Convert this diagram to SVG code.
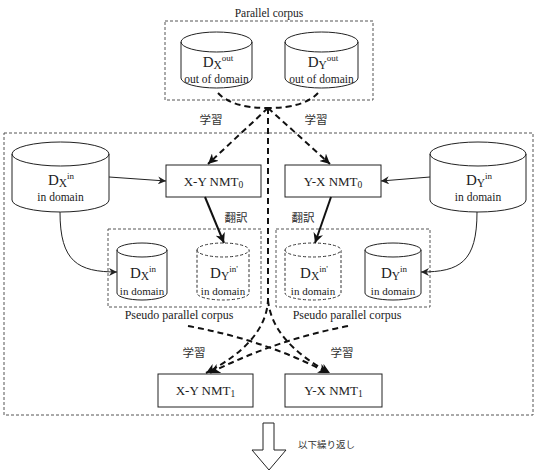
<svg xmlns="http://www.w3.org/2000/svg" width="538" height="473" viewBox="0 0 538 473">
<style>
.t{font-family:"Liberation Serif",serif;fill:#222;text-anchor:middle}
.j{font-family:"Noto Sans CJK JP",sans-serif;fill:#333;font-size:11.5px;text-anchor:middle}
.grp{fill:none;stroke:#555;stroke-width:1;stroke-dasharray:3,2}
.cyl{fill:#fff;stroke:#222;stroke-width:1}
.cyld{fill:#fff;stroke:#333;stroke-width:1;stroke-dasharray:3,2}
.box{fill:#fff;stroke:#222;stroke-width:1}
.dash{fill:none;stroke:#111;stroke-width:2;stroke-dasharray:6,4}
.thin{fill:none;stroke:#222;stroke-width:1}
.bold{fill:none;stroke:#111;stroke-width:2}
</style>
<defs>
<marker id="ah" markerUnits="userSpaceOnUse" markerWidth="11" markerHeight="10" refX="10" refY="5" orient="auto">
<path d="M0,0 L10,5 L0,10 L3,5 z" fill="#111"/>
</marker>
<marker id="as" markerUnits="userSpaceOnUse" markerWidth="9" markerHeight="8" refX="8" refY="4" orient="auto">
<path d="M0,0 L8,4 L0,8 L2.5,4 z" fill="#222"/>
</marker>
</defs>
<rect width="538" height="473" fill="#fff"/>

<!-- groups -->
<g id="parallel-corpus">
<rect class="grp" x="165" y="21" width="208" height="79"/>
<text class="t" x="269" y="17" font-size="11.5">Parallel corpus</text>
</g>
<g id="main-area">
<rect class="grp" x="4" y="133" width="529" height="282"/>
</g>
<g id="pseudo-left">
<rect class="grp" x="108" y="229" width="153" height="78"/>
<text class="t" x="179" y="319" font-size="12">Pseudo parallel corpus</text>
</g>
<g id="pseudo-right">
<rect class="grp" x="276" y="229" width="154" height="78"/>
<text class="t" x="347" y="319" font-size="12">Pseudo parallel corpus</text>
</g>

<!-- top cylinders -->
<g id="dx-out">
<path class="cyl" d="M181,42 A35.5,10 0 0 1 252,42 L252,78 A35.5,10 0 0 1 181,78 Z"/>
<path class="thin" d="M181,42 A35.5,10 0 0 0 252,42"/>
<text class="t" x="218" y="67"><tspan font-size="15">D</tspan><tspan font-size="11.5" dy="2">X</tspan><tspan font-size="9" dy="-8">out</tspan></text>
<text class="t" x="216.5" y="83" font-size="11.5">out of domain</text>
</g>
<g id="dy-out">
<path class="cyl" d="M285,42 A36.5,10 0 0 1 358,42 L358,78 A36.5,10 0 0 1 285,78 Z"/>
<path class="thin" d="M285,42 A36.5,10 0 0 0 358,42"/>
<text class="t" x="323" y="67"><tspan font-size="15">D</tspan><tspan font-size="11.5" dy="2">Y</tspan><tspan font-size="9" dy="-8">out</tspan></text>
<text class="t" x="321.5" y="83" font-size="11.5">out of domain</text>
</g>

<!-- big in-domain cylinders -->
<g id="dx-in">
<path class="cyl" d="M12,154 A48.5,12 0 0 1 109,154 L109,200 A48.5,12 0 0 1 12,200 Z"/>
<path class="thin" d="M12,154 A48.5,12 0 0 0 109,154"/>
<text class="t" x="61" y="185"><tspan font-size="15">D</tspan><tspan font-size="11.5" dy="2">X</tspan><tspan font-size="9" dy="-8">in</tspan></text>
<text class="t" x="60.5" y="201" font-size="11.5">in domain</text>
</g>
<g id="dy-in">
<path class="cyl" d="M430,154 A48,12 0 0 1 526,154 L526,200 A48,12 0 0 1 430,200 Z"/>
<path class="thin" d="M430,154 A48,12 0 0 0 526,154"/>
<text class="t" x="479" y="185"><tspan font-size="15">D</tspan><tspan font-size="11.5" dy="2">Y</tspan><tspan font-size="9" dy="-8">in</tspan></text>
<text class="t" x="478" y="201" font-size="11.5">in domain</text>
</g>

<!-- NMT0 boxes -->
<g id="xy-nmt0">
<rect class="box" x="166" y="165" width="95" height="32"/>
<text class="t" x="213.5" y="186" font-size="13">X-Y NMT<tspan font-size="9.5" dy="2">0</tspan></text>
</g>
<g id="yx-nmt0">
<rect class="box" x="285" y="165" width="96" height="32"/>
<text class="t" x="333" y="186" font-size="13">Y-X NMT<tspan font-size="9.5" dy="2">0</tspan></text>
</g>

<!-- small cylinders -->
<g id="dx-in-copy">
<path class="cyl" d="M117,250 A25,7 0 0 1 167,250 L167,293 A25,7 0 0 1 117,293 Z"/>
<path class="thin" d="M117,250 A25,7 0 0 0 167,250"/>
<text class="t" x="143" y="278"><tspan font-size="15">D</tspan><tspan font-size="11.5" dy="2">X</tspan><tspan font-size="9" dy="-8">in</tspan></text>
<text class="t" x="142" y="295" font-size="11">in domain</text>
</g>
<g id="dy-in-pseudo">
<path class="cyld" d="M197,250 A26,7 0 0 1 249,250 L249,293 A26,7 0 0 1 197,293 Z"/>
<path class="cyld" fill="none" d="M197,250 A26,7 0 0 0 249,250"/>
<text class="t" x="224" y="278"><tspan font-size="15">D</tspan><tspan font-size="11.5" dy="2">Y</tspan><tspan font-size="9" dy="-8">in'</tspan></text>
<text class="t" x="223" y="295" font-size="11">in domain</text>
</g>
<g id="dx-in-pseudo">
<path class="cyld" d="M285,250 A28,7 0 0 1 341,250 L341,293 A28,7 0 0 1 285,293 Z"/>
<path class="cyld" fill="none" d="M285,250 A28,7 0 0 0 341,250"/>
<text class="t" x="314" y="278"><tspan font-size="15">D</tspan><tspan font-size="11.5" dy="2">X</tspan><tspan font-size="9" dy="-8">in'</tspan></text>
<text class="t" x="313" y="295" font-size="11">in domain</text>
</g>
<g id="dy-in-copy">
<path class="cyl" d="M365,250 A28,7 0 0 1 421,250 L421,293 A28,7 0 0 1 365,293 Z"/>
<path class="thin" d="M365,250 A28,7 0 0 0 421,250"/>
<text class="t" x="394" y="278"><tspan font-size="15">D</tspan><tspan font-size="11.5" dy="2">Y</tspan><tspan font-size="9" dy="-8">in</tspan></text>
<text class="t" x="393" y="295" font-size="11">in domain</text>
</g>

<!-- NMT1 boxes -->
<g id="xy-nmt1">
<rect class="box" x="158" y="374" width="95" height="33"/>
<text class="t" x="205.5" y="395" font-size="13">X-Y NMT<tspan font-size="9.5" dy="2">1</tspan></text>
</g>
<g id="yx-nmt1">
<rect class="box" x="285" y="374" width="97" height="33"/>
<text class="t" x="333.5" y="395" font-size="13">Y-X NMT<tspan font-size="9.5" dy="2">1</tspan></text>
</g>

<!-- connectors -->
<g id="connectors">
<path class="dash" d="M218,93 Q232,108 268,108"/>
<path class="dash" d="M318,93 Q304,108 268,108"/>
<path class="dash" d="M268,108 L208,164" marker-end="url(#ah)"/>
<path class="dash" d="M268,108 L330,164" marker-end="url(#ah)"/>
<path class="dash" d="M268,108 L268,300 Q266,342 206,373" marker-end="url(#ah)"/>
<path class="dash" d="M268,300 Q272,342 330,373" marker-end="url(#ah)"/>
<path class="dash" d="M188,326 Q265,340 328,373" marker-end="url(#ah)"/>
<path class="dash" d="M348,326 Q275,340 210,373" marker-end="url(#ah)"/>
<path class="thin" d="M109,177 L166,181" marker-end="url(#as)"/>
<path class="thin" d="M430,177 L381,181" marker-end="url(#as)"/>
<path class="thin" d="M60,212 C60,262 78,272 117,272" marker-end="url(#as)"/>
<path class="thin" d="M477,212 C477,262 460,272 421,272" marker-end="url(#as)"/>
<path class="bold" d="M205,197 L224,243" marker-end="url(#ah)"/>
<path class="bold" d="M331,197 L315,243" marker-end="url(#ah)"/>
</g>

<!-- labels -->
<g id="labels">
<text class="j" x="211" y="123.5">学習</text>
<text class="j" x="316" y="123.5">学習</text>
<text class="j" x="236" y="221.5">翻訳</text>
<text class="j" x="303" y="221.5">翻訳</text>
<text class="j" x="194" y="356.5">学習</text>
<text class="j" x="342" y="356.5">学習</text>
</g>

<!-- repeat arrow -->
<g id="repeat">
<polygon points="263,423 274,423 274,450 286,450 269,470 252,450 263,450" fill="#fff" stroke="#222" stroke-width="1"/>
<text x="298" y="447.5" font-family="Noto Sans CJK JP, sans-serif" font-size="9.5" fill="#333">以下繰り返し</text>
</g>
</svg>
